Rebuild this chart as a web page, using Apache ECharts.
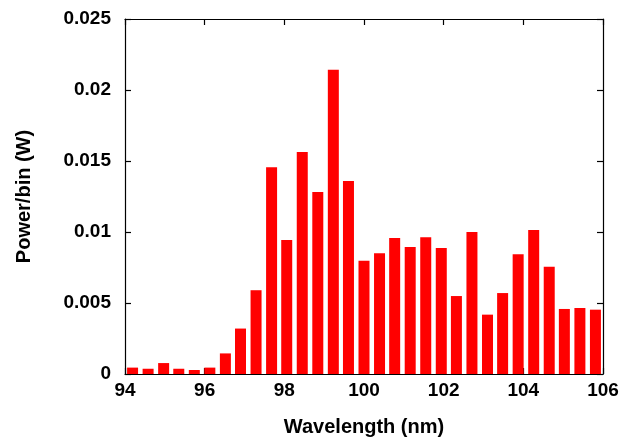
<!DOCTYPE html>
<html>
<head>
<meta charset="utf-8">
<script src="https://cdn.jsdelivr.net/npm/echarts@6/dist/echarts.min.js"></script>
<style>html,body{margin:0;padding:0;background:#fff;}#c{width:642px;height:439px;}</style>
</head>
<body>
<div id="c"></div>
<script>
var wavelengths = [94.19, 94.58, 94.97, 95.35, 95.74, 96.13, 96.52, 96.90, 97.29, 97.68,
  98.06, 98.45, 98.84, 99.23, 99.61, 100.00, 100.39, 100.77, 101.16, 101.55,
  101.94, 102.32, 102.71, 103.10, 103.48, 103.87, 104.26, 104.65, 105.03, 105.42, 105.81];
var power = [0.00045, 0.00037, 0.00077, 0.00037, 0.00028, 0.00045, 0.00145, 0.0032, 0.0059, 0.01456,
  0.00944, 0.01563, 0.01282, 0.02143, 0.01359, 0.00798, 0.0085, 0.00958, 0.00894, 0.00963,
  0.00887, 0.00549, 0.0100, 0.00418, 0.0057, 0.00843, 0.01014, 0.00756, 0.00458, 0.00465, 0.00453];
var xTicks = [94, 96, 98, 100, 102, 104, 106];
var yTicks = [0, 0.005, 0.01, 0.015, 0.02, 0.025];

var font = 'Liberation Sans, Arial, sans-serif';
var lineStyle = {color: '#000', width: 1.2};
var chart = echarts.init(document.getElementById('c'), null, {renderer: 'canvas'});
var data = wavelengths.map(function (w, i) { return [w, power[i]]; });
chart.setOption({
  animation: false,
  backgroundColor: '#fff',
  grid: {left: 125, right: 39, top: 19, bottom: 65, containLabel: false, outerBoundsMode: 'none'},
  xAxis: [{
    type: 'value', min: xTicks[0], max: xTicks[xTicks.length - 1], interval: 2, position: 'bottom',
    name: 'Wavelength (nm)', nameLocation: 'middle', nameGap: 43,
    nameTextStyle: {fontFamily: font, fontWeight: 'bold', fontSize: 20, color: '#000'},
    axisLine: {show: true, onZero: false, lineStyle: lineStyle},
    axisTick: {show: true, inside: true, length: 6, lineStyle: lineStyle},
    axisLabel: {fontFamily: font, fontWeight: 'bold', fontSize: 19, color: '#000', margin: 7},
    splitLine: {show: false}
  }, {
    type: 'value', min: xTicks[0], max: xTicks[xTicks.length - 1], interval: 2, position: 'top',
    axisLine: {show: true, onZero: false, lineStyle: lineStyle},
    axisTick: {show: true, inside: true, length: 6, lineStyle: lineStyle},
    axisLabel: {show: false}, splitLine: {show: false}
  }],
  yAxis: [{
    type: 'value', min: yTicks[0], max: yTicks[yTicks.length - 1], interval: 0.005, position: 'left',
    name: 'Power/bin (W)', nameLocation: 'middle', nameGap: 91, nameRotate: 90,
    nameTextStyle: {fontFamily: font, fontWeight: 'bold', fontSize: 20, color: '#000'},
    axisLine: {show: true, onZero: false, lineStyle: lineStyle},
    axisTick: {show: true, inside: true, length: 6, lineStyle: lineStyle},
    axisLabel: {fontFamily: font, fontWeight: 'bold', fontSize: 19, color: '#000', margin: 14},
    splitLine: {show: false}
  }, {
    type: 'value', min: yTicks[0], max: yTicks[yTicks.length - 1], interval: 0.005, position: 'right',
    axisLine: {show: true, onZero: false, lineStyle: lineStyle},
    axisTick: {show: true, inside: true, length: 6, lineStyle: lineStyle},
    axisLabel: {show: false}, splitLine: {show: false}
  }],
  series: [{
    type: 'bar', xAxisIndex: 0, yAxisIndex: 0, data: data, barWidth: 11,
    itemStyle: {color: '#ff0000'}, z: 1
  }]
});
</script>
</body>
</html>
